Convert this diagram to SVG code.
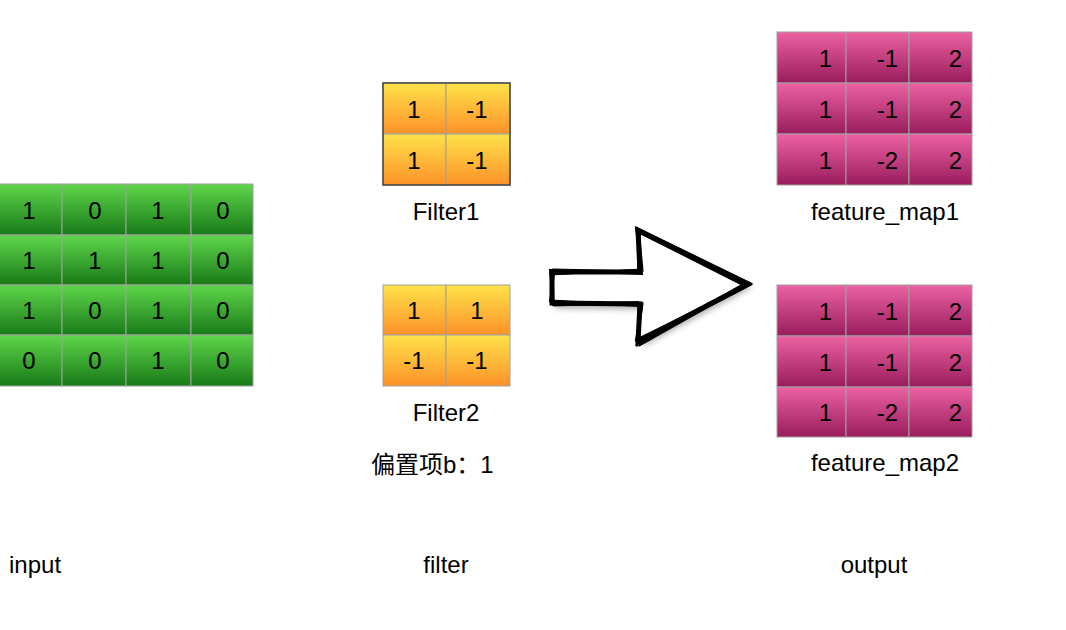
<svg xmlns="http://www.w3.org/2000/svg" width="1066" height="630" viewBox="0 0 1066 630">
<defs>
<linearGradient id="gG" x1="0" y1="0" x2="0" y2="1"><stop offset="0" stop-color="#5fd64b"/><stop offset="1" stop-color="#187a18"/></linearGradient>
<linearGradient id="gY" x1="0" y1="0" x2="0" y2="1"><stop offset="0" stop-color="#fde24a"/><stop offset="1" stop-color="#fd9229"/></linearGradient>
<linearGradient id="gP" x1="0" y1="0" x2="0" y2="1"><stop offset="0" stop-color="#ec62a3"/><stop offset="1" stop-color="#991c5c"/></linearGradient>
<filter id="sh" x="-20%" y="-20%" width="140%" height="140%"><feGaussianBlur stdDeviation="3"/></filter>
</defs>
<style>
.t{font-family:"Liberation Sans",Arial,"Noto Sans CJK SC",sans-serif;font-size:24px;fill:#000}
.c{text-anchor:middle}
.r{text-anchor:end}
.g{fill:url(#gG);stroke:#a0a0a0;stroke-width:1}
.y{fill:url(#gY);stroke:#a0a0a0;stroke-width:1}
.p{fill:url(#gP);stroke:#a0a0a0;stroke-width:1}
.ob{fill:none;stroke:#444;stroke-width:1.5}
.ar{fill:none;stroke:#000;stroke-linejoin:miter}
</style>
<rect width="1066" height="630" fill="#fff"/>

<g id="input">
<rect class="g" x="-2" y="184" width="64" height="51"/><rect class="g" x="62" y="184" width="64" height="51"/><rect class="g" x="126" y="184" width="65" height="51"/><rect class="g" x="191" y="184" width="62" height="51"/>
<rect class="g" x="-2" y="235" width="64" height="50"/><rect class="g" x="62" y="235" width="64" height="50"/><rect class="g" x="126" y="235" width="65" height="50"/><rect class="g" x="191" y="235" width="62" height="50"/>
<rect class="g" x="-2" y="285" width="64" height="50"/><rect class="g" x="62" y="285" width="64" height="50"/><rect class="g" x="126" y="285" width="65" height="50"/><rect class="g" x="191" y="285" width="62" height="50"/>
<rect class="g" x="-2" y="335" width="64" height="51"/><rect class="g" x="62" y="335" width="64" height="51"/><rect class="g" x="126" y="335" width="65" height="51"/><rect class="g" x="191" y="335" width="62" height="51"/>
<text class="t c" x="29" y="219">1</text><text class="t c" x="95" y="219">0</text><text class="t c" x="158" y="219">1</text><text class="t c" x="223" y="219">0</text>
<text class="t c" x="29" y="269">1</text><text class="t c" x="95" y="269">1</text><text class="t c" x="158" y="269">1</text><text class="t c" x="223" y="269">0</text>
<text class="t c" x="29" y="319">1</text><text class="t c" x="95" y="319">0</text><text class="t c" x="158" y="319">1</text><text class="t c" x="223" y="319">0</text>
<text class="t c" x="29" y="369">0</text><text class="t c" x="95" y="369">0</text><text class="t c" x="158" y="369">1</text><text class="t c" x="223" y="369">0</text>
</g>

<g id="filter1">
<rect class="y" x="383" y="83" width="63" height="51"/><rect class="y" x="446" y="83" width="64" height="51"/>
<rect class="y" x="383" y="134" width="63" height="51"/><rect class="y" x="446" y="134" width="64" height="51"/>
<rect class="ob" x="383" y="83" width="127" height="102"/>
<text class="t c" x="414" y="118">1</text><text class="t c" x="477" y="118">-1</text>
<text class="t c" x="414" y="169">1</text><text class="t c" x="477" y="169">-1</text>
<text class="t c" x="446" y="220">Filter1</text>
</g>

<g id="filter2">
<rect class="y" x="383" y="285" width="63" height="50"/><rect class="y" x="446" y="285" width="64" height="50"/>
<rect class="y" x="383" y="335" width="63" height="51"/><rect class="y" x="446" y="335" width="64" height="51"/>
<text class="t c" x="414" y="319">1</text><text class="t c" x="477" y="319">1</text>
<text class="t c" x="414" y="369">-1</text><text class="t c" x="477" y="369">-1</text>
<text class="t c" x="446" y="421">Filter2</text>
<text class="t" x="371" y="473">偏置项b：1</text>
</g>

<g id="arrow">
<path d="M556,276 L645,276 L643,236 L752,287 L643,346 L645,309 L556,308 Z" fill="#000" opacity="0.35" filter="url(#sh)"/>
<path d="M552,272 L640,272 L638,230 L748,284 L638,342 L640,304 L552,303 Z" fill="#fff"/>
<path class="ar" stroke-width="5" d="M552,272 L640,272 L638,230 L748,284 L638,342 L640,304 L552,303 Z"/>
<path class="ar" stroke-width="2" d="M550,270 L642,274 L636,228 L750,283 L640,345 L638,302 L553,305 Z"/>
<path class="ar" stroke-width="2" d="M554,274 L638,270 L640,233 L745,286 L636,340 L642,306 L550,301 Z"/>
<path class="ar" stroke-width="1.2" d="M551,275 L641,269 L637,232 L751,285 L639,343 L639,305 L551,300 Z"/>
<path class="ar" stroke-width="1.2" d="M553,269 L643,271 L639,229 L746,282 L637,346 L643,303 L554,306 Z"/>
</g>

<g id="feature_map1">
<rect class="p" x="777" y="32" width="69" height="51"/><rect class="p" x="846" y="32" width="63" height="51"/><rect class="p" x="909" y="32" width="63" height="51"/>
<rect class="p" x="777" y="83" width="69" height="51"/><rect class="p" x="846" y="83" width="63" height="51"/><rect class="p" x="909" y="83" width="63" height="51"/>
<rect class="p" x="777" y="134" width="69" height="51"/><rect class="p" x="846" y="134" width="63" height="51"/><rect class="p" x="909" y="134" width="63" height="51"/>
<text class="t r" x="832" y="67">1</text><text class="t r" x="898" y="67">-1</text><text class="t r" x="962" y="67">2</text>
<text class="t r" x="832" y="118">1</text><text class="t r" x="898" y="118">-1</text><text class="t r" x="962" y="118">2</text>
<text class="t r" x="832" y="169">1</text><text class="t r" x="898" y="169">-2</text><text class="t r" x="962" y="169">2</text>
<text class="t c" x="885" y="220">feature_map1</text>
</g>

<g id="feature_map2">
<rect class="p" x="777" y="285" width="69" height="51"/><rect class="p" x="846" y="285" width="63" height="51"/><rect class="p" x="909" y="285" width="63" height="51"/>
<rect class="p" x="777" y="336" width="69" height="51"/><rect class="p" x="846" y="336" width="63" height="51"/><rect class="p" x="909" y="336" width="63" height="51"/>
<rect class="p" x="777" y="387" width="69" height="50"/><rect class="p" x="846" y="387" width="63" height="50"/><rect class="p" x="909" y="387" width="63" height="50"/>
<text class="t r" x="832" y="320">1</text><text class="t r" x="898" y="320">-1</text><text class="t r" x="962" y="320">2</text>
<text class="t r" x="832" y="371">1</text><text class="t r" x="898" y="371">-1</text><text class="t r" x="962" y="371">2</text>
<text class="t r" x="832" y="421">1</text><text class="t r" x="898" y="421">-2</text><text class="t r" x="962" y="421">2</text>
<text class="t c" x="885" y="471">feature_map2</text>
</g>

<g id="labels">
<text class="t" x="9" y="573">input</text>
<text class="t c" x="446" y="573">filter</text>
<text class="t c" x="874" y="573">output</text>
</g>
</svg>
